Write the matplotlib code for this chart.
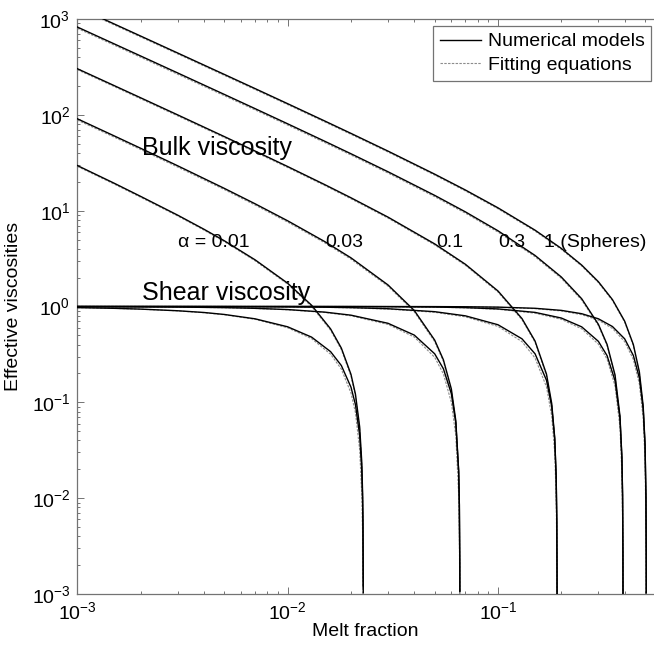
import numpy as np
import matplotlib
matplotlib.use("Agg")
import matplotlib.pyplot as plt
from matplotlib.lines import Line2D
from matplotlib.ticker import LogLocator, NullFormatter

plt.rcParams["font.family"] = ["Liberation Sans", "DejaVu Sans"]
plt.rcParams["mathtext.fontset"] = "custom"
plt.rcParams["mathtext.rm"] = "Liberation Sans"
plt.rcParams["mathtext.it"] = "Liberation Sans:italic"
plt.rcParams["mathtext.default"] = "regular"

# ---- effective viscosities vs melt fraction, per inclusion aspect ratio alpha ----
# alpha = 0.01
phi_a001 = [0.001, 0.0015, 0.002, 0.003, 0.004, 0.005, 0.007, 0.01, 0.013, 0.016,
            0.018, 0.02, 0.021, 0.022, 0.0225, 0.0227, 0.0228, 0.02288]
bulk_a001 = [29.6, 19.3, 14.1, 8.98, 6.40, 4.85, 3.07, 1.75, 1.03, 0.584,
             0.368, 0.196, 0.122, 0.0553, 0.0241, 0.0119, 0.0059, 0.00119]
shear_a001 = [0.973, 0.957, 0.939, 0.903, 0.866, 0.826, 0.744, 0.614, 0.479, 0.338,
              0.242, 0.144, 0.0948, 0.045, 0.0201, 0.0100, 0.00505, 0.00103]
bulk_fit_a001 = [29.0, 18.9, 13.8, 8.8, 6.27, 4.75, 3.0, 1.71, 1.0, 0.565,
                 0.355, 0.188, 0.116, 0.052, 0.0225, 0.011, 0.0054, 0.0011]
shear_fit_a001 = [0.973, 0.956, 0.937, 0.9, 0.861, 0.82, 0.735, 0.6, 0.462, 0.318,
                  0.222, 0.125, 0.078, 0.032, 0.011, 0.0045, 0.0012, 0.0002]

# alpha = 0.03
phi_a003 = [0.001, 0.0015, 0.002, 0.003, 0.005, 0.007, 0.01, 0.015, 0.02, 0.03,
            0.04, 0.05, 0.055, 0.06, 0.063, 0.065, 0.0655, 0.0658, 0.06585]
bulk_a003 = [91.0, 60.2, 44.8, 29.4, 17.08, 11.8, 7.84, 4.76, 3.22, 1.678,
             0.908, 0.446, 0.278, 0.138, 0.0645, 0.0193, 0.00857, 0.00214, 0.00107]
shear_a003 = [0.997, 0.995, 0.9925, 0.987, 0.973, 0.957, 0.929, 0.874, 0.812, 0.668,
              0.503, 0.321, 0.224, 0.123, 0.061, 0.0191, 0.0085, 0.00212, 0.00106]
bulk_fit_a003 = [88.3, 58.4, 43.5, 28.5, 16.6, 11.45, 7.6, 4.62, 3.12, 1.63,
                 0.88, 0.43, 0.268, 0.132, 0.061, 0.018, 0.0079, 0.0019, 0.0009]
shear_fit_a003 = [0.997, 0.995, 0.992, 0.986, 0.971, 0.954, 0.924, 0.866, 0.8, 0.65,
                  0.48, 0.295, 0.198, 0.1, 0.045, 0.011, 0.0042, 0.0008, 0.0003]

# alpha = 0.1
phi_a01 = [0.001, 0.0015, 0.002, 0.003, 0.005, 0.007, 0.01, 0.015, 0.02, 0.03, 0.05,
           0.07, 0.1, 0.13, 0.15, 0.17, 0.18, 0.186, 0.189, 0.1903, 0.1908, 0.19088]
bulk_a01 = [303, 201.5, 150.7, 99.9, 59.3, 41.9, 28.87, 18.71, 13.63, 8.56, 4.50,
            2.756, 1.451, 0.748, 0.436, 0.197, 0.0974, 0.0429, 0.01688, 0.00587, 0.00168, 0.00101]
shear_a01 = [1.0, 1.0, 0.9993, 0.9987, 0.997, 0.995, 0.991, 0.983, 0.973, 0.948, 0.883,
             0.799, 0.645, 0.460, 0.321, 0.170, 0.0905, 0.0416, 0.0167, 0.00586, 0.00168, 0.00100]
bulk_fit_a01 = [296, 197, 147, 97.5, 57.9, 40.9, 28.2, 18.3, 13.3, 8.36, 4.39,
                2.69, 1.415, 0.728, 0.423, 0.19, 0.093, 0.04, 0.0155, 0.0052, 0.0014, 0.0008]
shear_fit_a01 = [1.0, 1.0, 0.9993, 0.9985, 0.996, 0.994, 0.989, 0.98, 0.968, 0.94, 0.87,
                 0.78, 0.62, 0.43, 0.29, 0.145, 0.072, 0.03, 0.01, 0.0028, 0.0005, 0.0002]

# alpha = 0.3
phi_a03 = [0.001, 0.0015, 0.002, 0.003, 0.005, 0.007, 0.01, 0.015, 0.02, 0.03, 0.05, 0.07,
           0.1, 0.15, 0.2, 0.25, 0.3, 0.33, 0.36, 0.38, 0.388, 0.391, 0.3925, 0.39281]
bulk_a03 = [825, 549.3, 411.4, 273.6, 163.3, 116.05, 80.6, 53.04, 39.25, 25.47, 14.44, 9.71,
            6.166, 3.409, 2.031, 1.204, 0.652, 0.402, 0.193, 0.072, 0.0271, 0.01077, 0.00268, 0.00102]
shear_a03 = [1.0, 1.0, 1.0, 1.0, 1.0, 0.9998, 0.9996, 0.999, 0.998, 0.9955, 0.987, 0.973,
             0.9435, 0.868, 0.758, 0.613, 0.433, 0.307, 0.168, 0.0682, 0.0265, 0.0107, 0.00267, 0.00102]
bulk_fit_a03 = [800, 533, 399, 265, 158.4, 112.6, 78.2, 51.4, 38.1, 24.7, 14.0, 9.42,
                5.98, 3.31, 1.97, 1.168, 0.632, 0.39, 0.187, 0.069, 0.0258, 0.0101, 0.0024, 0.0009]
shear_fit_a03 = [1.0, 1.0, 1.0, 1.0, 0.9999, 0.9997, 0.9994, 0.9985, 0.997, 0.994, 0.984, 0.968,
                 0.935, 0.852, 0.735, 0.585, 0.405, 0.282, 0.148, 0.055, 0.018, 0.0058, 0.0009, 0.0003]

# alpha = 1 (spheres)
phi_a1 = [0.001, 0.0015, 0.002, 0.003, 0.005, 0.007, 0.01, 0.015, 0.02, 0.03, 0.05, 0.07, 0.1,
          0.15, 0.2, 0.25, 0.3, 0.35, 0.4, 0.44, 0.47, 0.49, 0.5, 0.505, 0.5065, 0.5068]
bulk_a1 = [1331, 886.3, 664.1, 441.8, 264.05, 187.86, 130.71, 86.26, 64.04, 41.82, 24.04, 16.42,
           10.70, 6.259, 4.037, 2.704, 1.815, 1.180, 0.7035, 0.4005, 0.207, 0.0912, 0.0368,
           0.01042, 0.0026, 0.00104]
shear_a1 = [1.0, 1.0, 1.0, 1.0, 1.0, 1.0, 1.0, 1.0, 1.0, 0.9994, 0.9976, 0.994, 0.985,
            0.958, 0.911, 0.841, 0.7445, 0.618, 0.460, 0.308, 0.179, 0.0849, 0.0355,
            0.01023, 0.00256, 0.001025]
bulk_fit_a1 = [1300, 866, 649, 432, 258, 183.6, 127.8, 84.3, 62.6, 40.9, 23.5, 16.05, 10.46,
               6.12, 3.95, 2.645, 1.775, 1.154, 0.688, 0.39, 0.2, 0.087, 0.034, 0.0092, 0.002, 0.0007]
shear_fit_a1 = [1.0, 1.0, 1.0, 1.0, 1.0, 1.0, 1.0, 1.0, 0.9999, 0.9991, 0.997, 0.992, 0.981,
                0.95, 0.898, 0.822, 0.72, 0.59, 0.43, 0.28, 0.155, 0.068, 0.025, 0.005, 0.0008, 0.0002]

alpha_labels = ["\u03b1 = 0.01", "0.03", "0.1", "0.3", "1 (Spheres)"]
alpha_label_x = [3.02e-3, 0.01505, 0.0507, 0.1003, 0.166]
alpha_label_y = 4.17

x_ticks = [1e-3, 1e-2, 1e-1]
y_ticks = [1e-3, 1e-2, 1e-1, 1e0, 1e1, 1e2, 1e3]

series = [
    (phi_a001, bulk_a001, shear_a001, bulk_fit_a001, shear_fit_a001),
    (phi_a003, bulk_a003, shear_a003, bulk_fit_a003, shear_fit_a003),
    (phi_a01, bulk_a01, shear_a01, bulk_fit_a01, shear_fit_a01),
    (phi_a03, bulk_a03, shear_a03, bulk_fit_a03, shear_fit_a03),
    (phi_a1, bulk_a1, shear_a1, bulk_fit_a1, shear_fit_a1),
]

W, H = 654, 652
fig = plt.figure(figsize=(W / 100, H / 100), dpi=100)
left, right, top, bottom = 77.3, 654.0, 19.0, 594.0
ax = fig.add_axes([left / W, 1 - bottom / H, (right - left) / W, (bottom - top) / H])

fit_style = dict(color="0.55", lw=0.8, ls=(0, (2.2, 1.2)), zorder=2)
num_style = dict(color="black", lw=1.0, zorder=3)
for phi, bulk, shear, bulk_fit, shear_fit in series:
    ax.plot(phi, bulk_fit, **fit_style)
    ax.plot(phi, shear_fit, **fit_style)
    ax.plot(phi, bulk, **num_style)
    ax.plot(phi, shear, **num_style)

ax.set_xscale("log")
ax.set_yscale("log")
ax.set_xlim(1e-3, 0.5515)
ax.set_ylim(1e-3, 1e3)
ax.set_xticks(x_ticks)
ax.set_yticks(y_ticks)
for axis in (ax.xaxis, ax.yaxis):
    axis.set_minor_locator(LogLocator(base=10, subs=np.arange(2, 10), numticks=100))
    axis.set_minor_formatter(NullFormatter())

spine_color = "0.45"
for name, sp in ax.spines.items():
    sp.set_color(spine_color)
    sp.set_linewidth(0.9)
ax.spines["right"].set_visible(False)
ax.tick_params(which="both", direction="in", top=True, right=False,
               color=spine_color, width=0.7, labelsize=14, labelcolor="black")
ax.tick_params(which="major", length=5, pad=5)
ax.tick_params(which="minor", length=2.5)

ax.set_xlabel("Melt fraction", fontsize=14)
ax.xaxis.set_label_coords(0.5, -0.05)
ax.set_ylabel("Effective viscosities", fontsize=14)
ax.yaxis.set_label_coords(-0.096, 0.5)

ax.text(2.02e-3, 37.8, "Bulk viscosity", fontsize=18, ha="left", va="baseline")
ax.text(2.02e-3, 1.18, "Shear viscosity", fontsize=18, ha="left", va="baseline")
for lab, lx in zip(alpha_labels, alpha_label_x):
    ax.text(lx, alpha_label_y, lab, fontsize=14, ha="left", va="baseline")

handles = [Line2D([], [], **num_style), Line2D([], [], **fit_style)]
leg = ax.legend(handles, ["Numerical models", "Fitting equations"],
                loc="upper left", bbox_to_anchor=(0.617, 0.988), fontsize=14,
                frameon=True, fancybox=False, edgecolor=spine_color, framealpha=1,
                handlelength=2.1, handletextpad=0.35, borderpad=0.35,
                borderaxespad=0, labelspacing=0.3)
leg.get_frame().set_linewidth(0.9)

fig.savefig("out.png", dpi=100)
